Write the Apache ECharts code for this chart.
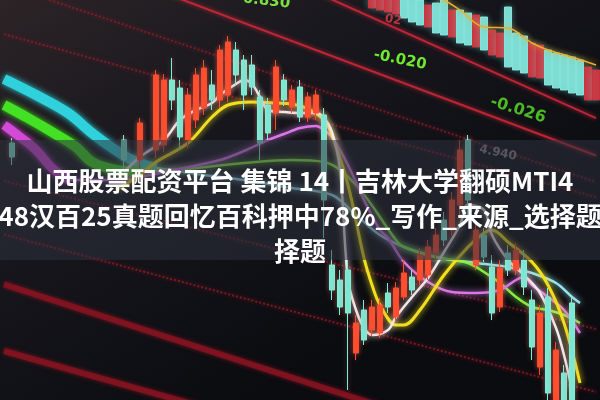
<!DOCTYPE html>
<html>
<head>
<meta charset="utf-8">
<script src="https://cdn.jsdelivr.net/npm/echarts@6/dist/echarts.min.js"></script>
<style>html,body{margin:0;padding:0;background:#111}#c{width:600px;height:400px}</style>
</head>
<body>
<div id="c"></div>
<script>
// ---- data ----
const categories = Array.from({length: 75}, (_, i) => 'T' + (i + 1));
// [index, open, close, low, high]
const candles = [
  [1, 5.285, 5.215, 5.175, 5.31], [15, 5.30, 5.20, 5.15, 5.325], [17, 5.20, 5.385, 5.16, 5.41],
  [19, 5.25, 5.625, 5.21, 5.65], [20, 5.275, 5.60, 5.24, 5.63], [21, 5.60, 5.50, 5.45, 5.71],
  [22, 5.56, 5.315, 5.25, 5.60], [23, 5.30, 5.525, 5.26, 5.56], [24, 5.40, 5.625, 5.36, 5.66],
  [25, 5.46, 5.66, 5.425, 5.70], [26, 5.575, 5.50, 5.45, 5.65], [27, 5.50, 5.75, 5.46, 5.775],
  [28, 5.525, 5.79, 5.49, 5.82], [29, 5.75, 5.625, 5.575, 5.79], [30, 5.70, 5.525, 5.45, 5.725],
  [31, 5.675, 5.565, 5.525, 5.725], [32, 5.515, 5.285, 5.20, 5.55], [33, 5.475, 5.335, 5.30, 5.51],
  [34, 5.435, 5.665, 5.35, 5.70], [35, 5.60, 5.50, 5.47, 5.63], [36, 5.465, 5.55, 5.435, 5.575],
  [37, 5.565, 5.415, 5.39, 5.60], [38, 5.415, 5.515, 5.39, 5.54], [39, 5.435, 5.525, 5.40, 5.55],
  [40, 5.425, 5.00, 4.81, 5.46], [41, 4.675, 4.55, 4.50, 4.75], [42, 4.60, 4.465, 4.425, 4.65],
  [43, 4.65, 4.435, 4.05, 4.70], [44, 4.235, 4.385, 4.20, 4.425], [45, 4.45, 4.30, 4.275, 4.50],
  [46, 4.35, 4.465, 4.32, 4.50], [47, 4.335, 4.475, 4.31, 4.51], [48, 4.535, 4.465, 4.435, 4.585],
  [49, 4.415, 4.56, 4.39, 4.59], [50, 4.515, 4.635, 4.50, 4.70], [51, 4.615, 4.55, 4.525, 4.65],
  [52, 4.60, 4.725, 4.575, 4.76], [53, 4.625, 4.765, 4.60, 4.80], [54, 4.735, 4.825, 4.71, 4.86],
  [55, 4.90, 4.80, 4.77, 4.94], [56, 4.85, 5.00, 4.82, 5.04], [57, 4.975, 5.25, 4.925, 5.30],
  [58, 5.30, 5.00, 4.925, 5.325], [59, 4.675, 4.85, 4.65, 4.89], [60, 4.825, 4.715, 4.69, 4.86],
  [61, 4.665, 4.435, 4.40, 4.725], [62, 4.465, 4.66, 4.44, 4.70], [63, 4.735, 4.65, 4.62, 4.775],
  [64, 4.65, 4.75, 4.625, 4.785], [65, 4.70, 4.565, 4.525, 4.75], [66, 4.50, 4.265, 4.20, 4.55],
  [67, 4.165, 4.435, 4.125, 4.475], [68, 4.515, 4.035, 3.98, 4.56], [69, 3.975, 4.25, 3.95, 4.29],
  [70, 4.135, 3.975, 3.95, 4.175], [71, 4.485, 3.975, 3.95, 4.525]
];
// [index, open, close]
const macdBars = [
  [46, 5.96, 6.06], [47, 5.95, 6.06], [48, 5.94, 6.06], [49, 5.93, 6.06], [50, 6.025, 5.91],
  [51, 6.025, 5.89], [52, 6.00, 5.875], [53, 5.865, 5.975], [54, 5.985, 5.835], [55, 6.00, 5.825],
  [56, 5.815, 5.95], [57, 5.95, 5.785], [58, 5.935, 5.775], [59, 5.765, 5.925], [60, 5.915, 5.75],
  [61, 5.725, 5.85], [62, 5.715, 5.835], [63, 5.965, 5.665], [64, 5.835, 5.65], [65, 5.82, 5.635],
  [66, 5.615, 5.785], [67, 5.61, 5.775], [68, 5.75, 5.575], [69, 5.735, 5.56], [70, 5.725, 5.55],
  [71, 5.715, 5.535], [72, 5.70, 5.525], [73, 5.50, 5.665], [74, 5.50, 5.65]
];
const cyanNear = [[0, 5.605], [4, 5.525], [8, 5.435], [11, 5.335], [13, 5.275], [16, 5.20], [19, 5.16]];
const greenNear = [[0, 5.475], [3, 5.41], [6, 5.34], [9, 5.265], [11, 5.19], [14, 5.15], [17, 5.14]];
const magentaNear = [[0, 5.375], [2, 5.315], [4, 5.25], [6, 5.16], [8, 5.10]];
const cyanFar = [[19, 5.16], [25, 5.125], [30, 5.10], [36, 5.06], [41, 5.025], [44, 4.925], [47, 4.825],
  [50, 4.765], [54, 4.715], [59, 4.685], [63, 4.665], [66, 4.635], [69, 4.585], [71, 4.515], [72, 4.485]];
const greenFar = [[17, 5.14], [24, 5.16], [30, 5.185], [36, 5.20], [40, 5.19], [44, 5.075], [49, 4.80],
  [50, 4.765], [54, 4.715], [58, 4.685], [60, 4.64], [62, 4.585], [64, 4.515], [66, 4.465], [68, 4.45],
  [70, 4.425], [72, 4.385]];
const magentaFar = [[8, 5.10], [14, 5.10], [20, 5.14], [27, 5.20], [30, 5.245], [33, 5.30], [35, 5.33],
  [37, 5.36], [39, 5.37], [40, 5.35], [41, 5.315], [43, 5.175], [45, 5.00], [47, 4.85], [48, 4.81],
  [50, 4.69], [53, 4.59], [56, 4.54], [59, 4.535], [62, 4.55], [64, 4.60], [65, 4.615], [66, 4.575],
  [68, 4.515], [70, 4.45], [72, 4.335]];
const whiteLine = [[15, 5.14], [17, 5.215], [20, 5.30], [22, 5.40], [24, 5.45], [26, 5.485], [27, 5.525],
  [29, 5.58], [30, 5.60], [31, 5.58], [32, 5.515], [33, 5.45], [35, 5.44], [37, 5.435], [39, 5.435],
  [40, 5.41], [41, 5.34], [42, 5.15], [43, 4.60], [44, 4.45], [45, 4.36], [46, 4.325], [48, 4.35],
  [49, 4.415], [51, 4.515], [53, 4.61], [55, 4.74], [57, 4.875], [58, 4.975], [60, 4.95], [61, 4.825],
  [63, 4.70], [65, 4.625], [67, 4.535], [69, 4.36], [70, 4.225], [71, 4.05]];
const yellowLine = [[14, 5.05], [17, 5.125], [19, 5.19], [23, 5.285], [26, 5.415], [28, 5.475], [31, 5.49],
  [34, 5.485], [36, 5.48], [38, 5.455], [40, 5.40], [41, 5.325], [43, 5.075], [45, 4.71], [46, 4.575],
  [47, 4.475], [49, 4.375], [50, 4.375], [52, 4.45], [55, 4.625], [58, 4.765], [60, 4.835], [61, 4.85],
  [63, 4.79], [66, 4.69], [68, 4.575], [70, 4.385], [72, 4.085]];
const deaLine = [[54, 6.015], [55, 6.0], [57, 5.95], [60, 5.865], [63, 5.86], [66, 5.785], [68, 5.75], [71, 5.715], [74, 5.675]];
// perspective guide lines: [left value, right value]
const guideBright = [[6.337, 5.2225], [6.739, 5.409]];
const guideFaint = [[5.8295, 5.015], [6.0765, 5.09], [5.095, 4.355]];
const guideLow = [[4.578, 3.62], [4.245, 3.41]];
const guideLowDot = [[4.8275, 4.04]];
const titleLines = ['山西股票配资平台 集锦 14丨吉林大学翻硕MTI4', '48汉百25真题回忆百科押中78%_写作_来源_选择题', '择题'];
const screenLabels = ['0.830', '-0.020', '-0.026', '02', '4.940'];

// ---- build ----
const kData = categories.map(() => '-');
candles.forEach(c => { kData[c[0]] = c.slice(1); });
const mData = categories.map(() => '-');
macdBars.forEach(m => { mData[m[0]] = [m[1], m[2], Math.min(m[1], m[2]), Math.max(m[1], m[2])]; });
const last = categories.length - 1;

function lineS(data, color, width, opts) {
  return Object.assign({
    type: 'line', data: data, smooth: 0.35, showSymbol: false, symbol: 'none', silent: true,
    lineStyle: {color: color, width: width, shadowBlur: 6, shadowColor: color}, z: 3
  }, opts || {});
}
function guide(pair, color, width, type, opacity) {
  return {
    type: 'line', data: [[0, pair[0]], [last, pair[1]]], showSymbol: false, symbol: 'none', silent: true,
    clip: true, lineStyle: {color: color, width: width, type: type, opacity: opacity, shadowBlur: 4, shadowColor: color}, z: 1
  };
}

const series = [];
guideBright.forEach(g => series.push(guide(g, '#d0283a', 2, 'solid', 0.85)));
guideFaint.forEach(g => series.push(guide(g, '#a02030', 2, 'dotted', 0.6)));
guideLow.forEach(g => series.push(guide(g, '#8c1422', 6, 'solid', 0.75)));
guideLowDot.forEach(g => series.push(guide(g, '#a01c2a', 2, 'dotted', 0.7)));
series.push({
  type: 'candlestick', data: kData, barWidth: 6, z: 4, silent: true,
  itemStyle: {color: '#ff4a2a', color0: '#6ef5e0', borderColor: '#ff4a2a', borderColor0: '#6ef5e0',
    borderWidth: 1, shadowBlur: 5, shadowColor: 'rgba(255,120,100,0.5)'}
});
series.push({
  type: 'candlestick', data: mData, barWidth: 8, z: 2, silent: true,
  itemStyle: {color: '#d8303c', color0: '#86ece2', borderColor: '#d8303c', borderColor0: '#86ece2',
    borderWidth: 1, opacity: 0.9, shadowBlur: 6, shadowColor: 'rgba(140,236,226,0.4)'}
});
series.push(lineS(cyanNear, '#2fd2dc', 10));
series.push(lineS(greenNear, '#44e024', 10));
series.push(lineS(magentaNear, '#d44ad8', 9));
series.push(lineS(cyanFar, '#96e4f0', 2.5));
series.push(lineS(greenFar, '#88f040', 2.5));
series.push(lineS(magentaFar, '#d878e8', 2.5));
series.push(lineS(yellowLine, '#f2e020', 3));
series.push(lineS(whiteLine, '#f4eaea', 2.5));
series.push(lineS(deaLine, '#e8b030', 1.5));

const chart = echarts.init(document.getElementById('c'), null, {renderer: 'canvas'});
const gfx = [
  {type: 'rect', z: 100, shape: {x: 0, y: 140, width: 600, height: 120}, style: {fill: 'rgba(46,50,62,0.55)'}},
  {type: 'text', z: 90, x: 290, y: 4, rotation: -0.12, style: {text: screenLabels[0], fill: '#7ee040', font: 'bold 15px "DejaVu Sans"', align: 'right', verticalAlign: 'middle'}},
  {type: 'text', z: 90, x: 400, y: 60, rotation: -0.2, style: {text: screenLabels[1], fill: '#70e830', font: 'bold 15px "DejaVu Sans"', align: 'center', verticalAlign: 'middle', shadowBlur: 4, shadowColor: '#50c020'}},
  {type: 'text', z: 90, x: 518, y: 110, rotation: -0.3, style: {text: screenLabels[2], fill: '#58d828', font: 'bold 16px "DejaVu Sans"', align: 'center', verticalAlign: 'middle', opacity: 0.85, shadowBlur: 8, shadowColor: '#40b020'}},
  {type: 'text', z: 90, x: 393, y: 20, rotation: -0.2, style: {text: screenLabels[3], fill: '#d83a44', font: 'bold 12px "DejaVu Sans"', align: 'center', verticalAlign: 'middle', opacity: 0.85}},
  {type: 'text', z: 90, x: 498, y: 153, rotation: -0.2, style: {text: screenLabels[4], fill: '#9aa4ae', font: 'bold 12px "DejaVu Sans"', align: 'center', verticalAlign: 'middle', opacity: 0.8}}
];
const lineY = [181, 216, 251];
titleLines.forEach((t, k) => {
  gfx.push({type: 'text', z: 110, x: 300, y: lineY[k], style: {
    text: t, fill: '#ffffff', font: 'bold 26px "Noto Sans CJK SC"', align: 'center', verticalAlign: 'middle',
    shadowBlur: 3, shadowColor: 'rgba(0,0,0,0.7)', shadowOffsetX: 1, shadowOffsetY: 1}});
});

chart.setOption({
  animation: false,
  backgroundColor: {type: 'linear', x: 0, y: 0, x2: 0.4, y2: 1, colorStops: [
    {offset: 0, color: '#2c2427'}, {offset: 0.45, color: '#17171d'}, {offset: 1, color: '#0b0c10'}]},
  grid: {left: 0, right: 0, top: 0, bottom: 0, containLabel: false},
  xAxis: {type: 'category', data: categories, show: false, boundaryGap: true},
  yAxis: {type: 'value', min: 4, max: 6, show: false, scale: true},
  series: series,
  graphic: gfx
});
</script>
</body>
</html>
